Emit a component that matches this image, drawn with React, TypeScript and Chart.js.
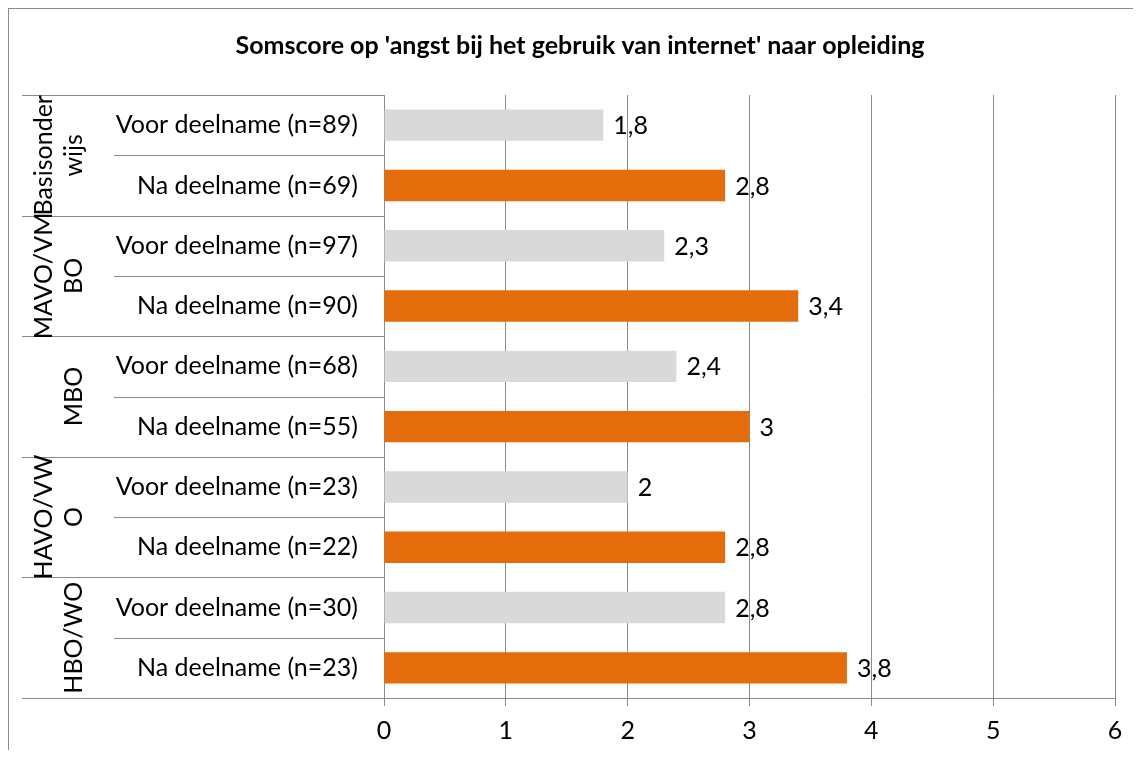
import React, { useEffect, useRef } from "react";
import { Chart, registerables } from "chart.js";

Chart.register(...registerables);

const title = "Somscore op 'angst bij het gebruik van internet' naar opleiding";
const categories = [
  "Voor deelname (n=89)",
  "Na deelname (n=69)",
  "Voor deelname (n=97)",
  "Na deelname (n=90)",
  "Voor deelname (n=68)",
  "Na deelname (n=55)",
  "Voor deelname (n=23)",
  "Na deelname (n=22)",
  "Voor deelname (n=30)",
  "Na deelname (n=23)",
];
const values = [1.8, 2.8, 2.3, 3.4, 2.4, 3.0, 2.0, 2.8, 2.8, 3.8];
const groupLabels = [["Basisonder", "wijs"], ["MAVO/VM", "BO"], ["MBO"], ["HAVO/VW", "O"], ["HBO/WO"]];
const groupSizes = [2, 2, 2, 2, 2];
const xTickValues = [0, 1, 2, 3, 4, 5, 6];

const GREY = "#d9d9d9";
const ORANGE = "#e46c0a";
const LINE = "#8a8a8a";
const FONT = "Lato";
const FS = 25;

const fmt = (v: number) => String(v).replace(".", ",");

const overlay = {
  id: "overlay",
  afterDraw(chart: any) {
    const { ctx, chartArea } = chart;
    const y = chart.scales.y;
    const left = chartArea.left;
    const outer = left - y.width;
    const inner = outer + 92;
    ctx.save();
    // title
    ctx.fillStyle = "#000";
    ctx.font = `bold ${FS}px ${FONT}`;
    ctx.textAlign = "center";
    ctx.textBaseline = "middle";
    ctx.fillText(title, 571, 37);

    // separators
    ctx.strokeStyle = LINE;
    ctx.lineWidth = 1;
    const n = categories.length;
    const groupBounds = new Set<number>();
    let acc = 0;
    groupBounds.add(0);
    groupSizes.forEach((s) => {
      acc += s;
      groupBounds.add(acc);
    });
    for (let i = 0; i <= n; i++) {
      const py = Math.round(y.getPixelForValue(i - 0.5)) + 0.5;
      const x0 = groupBounds.has(i) ? outer : inner;
      ctx.beginPath();
      ctx.moveTo(x0, py);
      ctx.lineTo(left, py);
      ctx.stroke();
    }

    // group labels
    ctx.fillStyle = "#000";
    ctx.font = `${FS}px ${FONT}`;
    let start = 0;
    groupLabels.forEach((lines, g) => {
      const end = start + groupSizes[g] - 1;
      const cy = (y.getPixelForValue(start - 0.5) + y.getPixelForValue(end + 0.5)) / 2;
      lines.forEach((line, k) => {
        const cx = outer + 52 - 30 * (lines.length - 1 - k);
        ctx.save();
        ctx.translate(cx, cy);
        ctx.rotate(-Math.PI / 2);
        ctx.textAlign = "center";
        ctx.textBaseline = "middle";
        ctx.fillText(line, 0, 0);
        ctx.restore();
      });
      start += groupSizes[g];
    });

    // value labels
    const meta = chart.getDatasetMeta(0);
    ctx.textAlign = "left";
    ctx.textBaseline = "middle";
    meta.data.forEach((bar: any, i: number) => {
      ctx.fillText(fmt(values[i]), bar.x + 10, bar.y + 1);
    });
    ctx.restore();
  },
};

export default function App() {
  const ref = useRef<HTMLCanvasElement>(null);
  useEffect(() => {
    if (!ref.current) return;
    const chart = new Chart(ref.current, {
      type: "bar",
      data: {
        labels: categories,
        datasets: [
          {
            data: values,
            backgroundColor: categories.map((c) => (c.startsWith("Voor") ? GREY : ORANGE)),
            barPercentage: 0.52,
            categoryPercentage: 1,
          },
        ],
      },
      options: {
        indexAxis: "y",
        responsive: false,
        animation: false,
        layout: { padding: { left: 13, top: 86, right: 26, bottom: 0 } },
        plugins: { legend: { display: false }, tooltip: { enabled: false }, title: { display: false } },
        scales: {
          x: {
            type: "linear",
            min: 0,
            max: 6,
            afterBuildTicks: (s: any) => {
              s.ticks = xTickValues.map((v) => ({ value: v }));
            },
            afterFit: (s: any) => {
              s.height = 52;
            },
            ticks: { color: "#000", font: { family: FONT, size: FS }, padding: 10 },
            grid: { color: LINE, tickLength: 8, drawTicks: true },
            border: { color: LINE },
          },
          y: {
            type: "category",
            afterFit: (s: any) => {
              s.width = 362;
            },
            ticks: { color: "#000", font: { family: FONT, size: FS }, padding: 18 },
            grid: { display: false },
            border: { display: true, color: LINE },
          },
        },
      },
      plugins: [overlay],
    });
    return () => chart.destroy();
  }, []);
  return (
    <div
      style={{
        width: 1133,
        height: 742,
        borderTop: `1px solid ${LINE}`,
        borderLeft: `1px solid ${LINE}`,
        boxSizing: "border-box",
        position: "relative",
        overflow: "hidden",
      }}
    >
      <canvas ref={ref} width={1132} height={741} style={{ display: "block" }} />
    </div>
  );
}
